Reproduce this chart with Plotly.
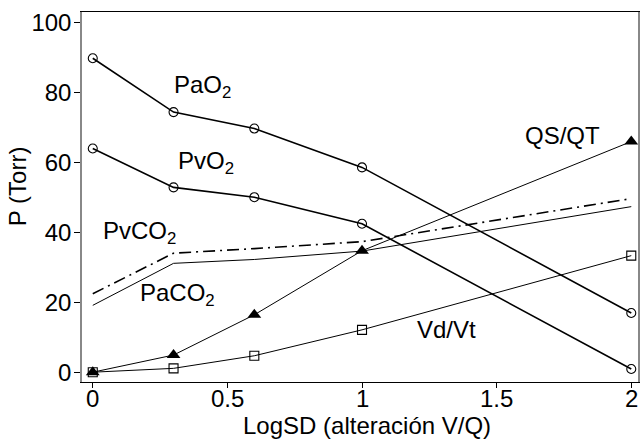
import plotly.graph_objects as go

x_vals = [0, 0.3, 0.6, 1.0, 2.0]
pao2 = [89.7, 74.3, 69.6, 58.5, 16.9]
pvo2 = [63.9, 52.8, 50.0, 42.4, 0.9]
pvco2 = [22.4, 34.0, 35.3, 37.3, 49.6]
paco2 = [19.1, 31.1, 32.2, 34.6, 47.3]
qsqt = [0.0, 4.9, 16.4, 34.7, 65.9]
vdvt = [0.0, 1.1, 4.7, 12.1, 33.3]

x_ticks = [0, 0.5, 1, 1.5, 2]
x_tick_text = ["0", "0.5", "1", "1.5", "2"]
y_ticks = [0, 20, 40, 60, 80, 100]

labels = [
    ("PaO<sub>2</sub>", 0.295, 81.5),
    ("PvO<sub>2</sub>", 0.310, 59.8),
    ("PvCO<sub>2</sub>", 0.030, 39.8),
    ("PaCO<sub>2</sub>", 0.168, 22.1),
    ("QS/QT", 1.598, 67.6),
    ("Vd/Vt", 1.198, 12.1),
]

FONT = "Liberation Sans, Arial, Helvetica, sans-serif"

fig = go.Figure()
fig.add_trace(go.Scatter(x=x_vals, y=pao2, mode="lines+markers",
                         line=dict(color="black", width=1.6),
                         marker=dict(symbol="circle-open", size=9, color="black", line=dict(width=1.1))))
fig.add_trace(go.Scatter(x=x_vals, y=pvo2, mode="lines+markers",
                         line=dict(color="black", width=1.6),
                         marker=dict(symbol="circle-open", size=9, color="black", line=dict(width=1.1))))
fig.add_trace(go.Scatter(x=x_vals, y=pvco2, mode="lines",
                         line=dict(color="black", width=1.6, dash="12px,5px,2px,5px")))
fig.add_trace(go.Scatter(x=x_vals, y=paco2, mode="lines",
                         line=dict(color="black", width=1)))
fig.add_trace(go.Scatter(x=x_vals, y=qsqt, mode="lines+markers",
                         line=dict(color="black", width=1),
                         marker=dict(symbol="triangle-up", size=12, color="black")))
fig.add_trace(go.Scatter(x=x_vals, y=vdvt, mode="lines+markers",
                         line=dict(color="black", width=1),
                         marker=dict(symbol="square-open", size=9, color="black", line=dict(width=1.1))))

for text, xv, yv in labels:
    fig.add_annotation(x=xv, y=yv, xref="x", yref="y", text=text, showarrow=False,
                       xanchor="left", yanchor="middle",
                       font=dict(family=FONT, size=24, color="black"))

# x tick labels placed as annotations (closer to the axis than Plotly's default)
for tv, tt in zip(x_ticks, x_tick_text):
    fig.add_annotation(x=tv, y=-0.004, xref="x", yref="paper", text=tt, showarrow=False,
                       xanchor="center", yanchor="top",
                       font=dict(family=FONT, size=24, color="black"))

# axis titles as annotations for precise placement
fig.add_annotation(x=0.5125, y=-0.118, xref="paper", yref="paper",
                   text="LogSD (alteración V/Q)", showarrow=False,
                   xanchor="center", yanchor="middle",
                   font=dict(family=FONT, size=24, color="black"))
fig.add_annotation(x=-0.1147, y=0.53, xref="paper", yref="paper",
                   text="P (Torr)", showarrow=False, textangle=-90,
                   xanchor="center", yanchor="middle",
                   font=dict(family=FONT, size=24, color="black"))

fig.update_layout(
    width=642, height=440,
    margin=dict(l=82, r=2, t=12, b=58),
    paper_bgcolor="white", plot_bgcolor="white",
    showlegend=False,
    font=dict(family=FONT, size=24, color="black"),
    xaxis=dict(range=[-0.04, 2.025], tickvals=x_ticks, showticklabels=False,
               ticks="outside", ticklen=5, tickcolor="black", tickwidth=1,
               showline=True, linecolor="black", linewidth=1.2, mirror=True,
               showgrid=False, zeroline=False),
    yaxis=dict(range=[-2.8, 102.9], tickvals=y_ticks,
               ticks="outside", ticklen=6, tickcolor="black", tickwidth=1,
               ticklabelstandoff=-2,
               showline=True, linecolor="#888888", linewidth=1.5, mirror=True,
               showgrid=False, zeroline=False),
)

fig.write_html("out.html")
